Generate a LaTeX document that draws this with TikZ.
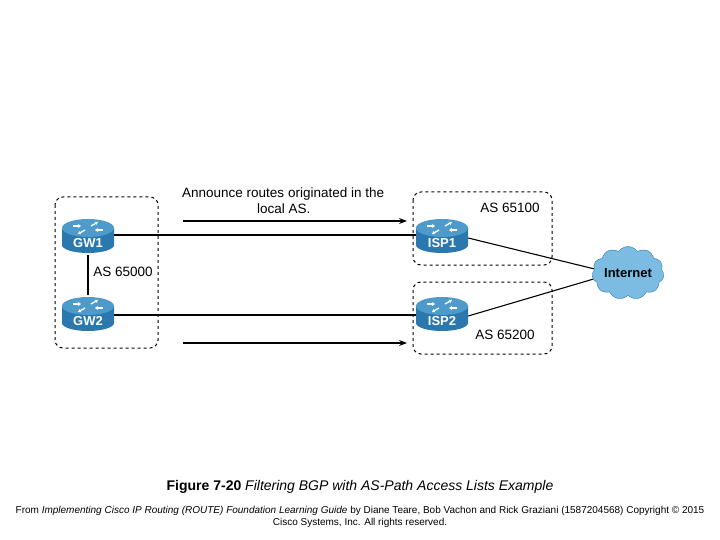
\documentclass[tikz,border=0pt]{standalone}
\usepackage{fontspec}
\setmainfont{Liberation Sans}
\usetikzlibrary{shapes.symbols,arrows.meta}
\definecolor{rblue}{HTML}{2A78AE}
\definecolor{rtop}{HTML}{4E9BCB}
\definecolor{cloudblue}{HTML}{7DBCE2}
\tikzset{
  asbox/.style={draw, dashed, line width=1pt, rounded corners=8pt},
  link/.style={line width=1.1pt},
  announce/.style={-{Stealth[length=8pt]}, line width=1.1pt},
  txt/.style={font=\fontsize{13.5}{16}\selectfont, align=left}
}
% router icon: #1 name, #2 x, #3 y, #4 label
\newcommand{\router}[4]{
  \node[minimum width=52pt, minimum height=38pt, inner sep=0pt] (#1) at (#2,#3) {};
  \fill[rblue] ({#2-26},{#3-8}) -- ({#2-26},{#3+9}) arc[start angle=180, end angle=0, x radius=26, y radius=8] -- ({#2+26},{#3-8}) -- cycle;
  \fill[rtop] (#2,{#3-8}) ellipse[x radius=26, y radius=9];
  \foreach \dx/\dy/\ang in {-15/-10/0, 15/-6/180, -3/-6/150, 3/-10/-30}
    \draw[white, line width=1.3pt, -{Stealth[length=3pt,width=4pt]}] ({#2+\dx},{#3+\dy}) -- ++(\ang:8);
  \node[white, font=\bfseries\fontsize{13}{14}\selectfont] at (#2,{#3+7}) {#4};
}
\begin{document}
\begin{tikzpicture}[x=1pt, y=-1pt]
  \useasboundingbox (0,0) rectangle (720,540);

  % AS boxes
  \draw[asbox] (55,197) rectangle (158,348);
  \draw[asbox] (413,192) rectangle (552,265);
  \draw[asbox] (413,282) rectangle (552,354);

  % Routers
  \router{gw1}{88}{236}{GW1}
  \router{gw2}{88}{314}{GW2}
  \router{isp1}{442}{236}{ISP1}
  \router{isp2}{442}{314}{ISP2}

  % Internet
  \node[cloud, cloud puffs=11, cloud puff arc=110, aspect=1.5, draw=rblue, fill=cloudblue,
        minimum width=72pt, minimum height=52pt, inner sep=0pt, font=\bfseries\fontsize{13}{14}\selectfont] (inet) at (628,273) {Internet};

  % Links
  \draw[link] (gw1) -- (gw2);
  \draw[link] ([yshift=1pt]gw1.east) -- ([yshift=1pt]isp1.west);
  \draw[link] ([yshift=-1pt]gw2.east) -- ([yshift=-1pt]isp2.west);
  \draw[link] ([yshift=-2pt]isp1.east) -- (inet.173);
  \draw[link] ([yshift=-2pt]isp2.east) -- (inet.190);

  % Announcements
  \coordinate (a1) at (183,221); \coordinate (b1) at (407,221);
  \coordinate (a2) at (183,343); \coordinate (b2) at (407,343);
  \draw[announce] (a1) -- (b1);
  \draw[announce] (a2) -- (b2);

  % Labels
  \node[txt, anchor=west, inner sep=0pt] (ann) at (182,201) {Announce routes originated in the\\\hspace*{75pt}local AS.};
  \node[txt] (as0) at (123,272) {AS 65000};
  \node[txt] (as1) at (510,208) {AS 65100};
  \node[txt] (as2) at (505,335) {AS 65200};

  % Caption
  \node[font=\fontsize{14}{16}\selectfont] (cap) at (360,487) {\textbf{Figure 7-20} \textit{Filtering BGP with AS-Path Access Lists Example}};
  \node[font=\fontsize{10}{12}\selectfont, align=center] (src) at (360,517) {From \textit{Implementing Cisco IP Routing (ROUTE) Foundation Learning Guide} by Diane Teare, Bob Vachon and Rick Graziani (1587204568) Copyright \textcopyright{} 2015\\Cisco Systems, Inc. All rights reserved.};
\end{tikzpicture}
\end{document}
